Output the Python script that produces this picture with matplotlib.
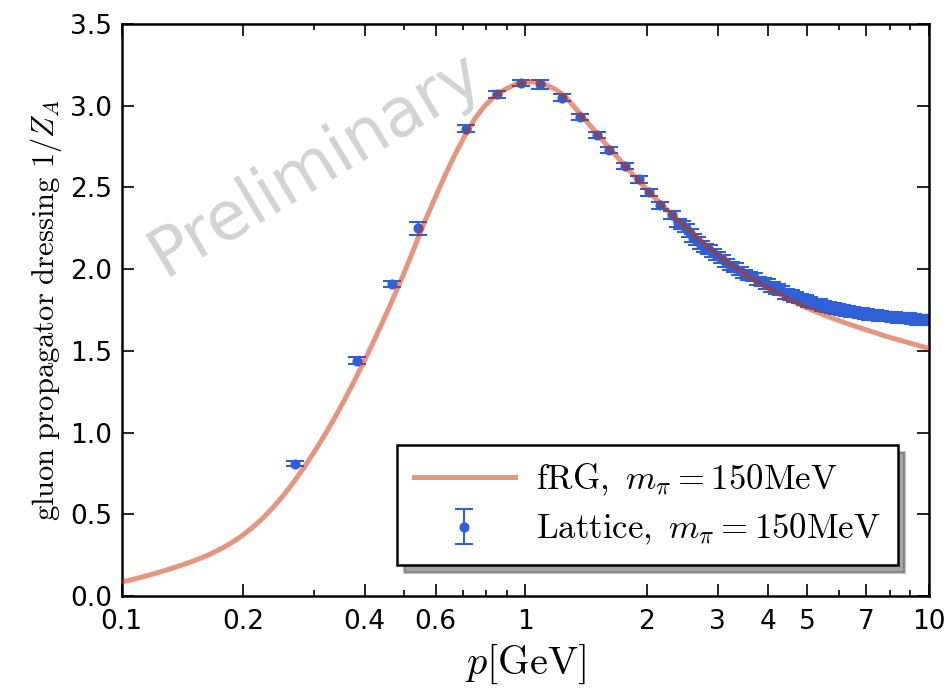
import matplotlib
matplotlib.use("Agg")
import matplotlib.pyplot as plt
from matplotlib.ticker import FixedLocator, FixedFormatter, NullFormatter
from matplotlib.patches import Shadow

plt.rcParams['mathtext.fontset'] = 'cm'
plt.rcParams['font.family'] = ['DejaVu Sans']

# ---------------- data ----------------
# fRG curve (m_pi = 150 MeV)
p_frg = [0.1000, 0.1059, 0.1122, 0.1189, 0.1259, 0.1334, 0.1413, 0.1496,
         0.1585, 0.1679, 0.1778, 0.1884, 0.1995, 0.2113, 0.2239, 0.2371,
         0.2512, 0.2661, 0.2818, 0.2985, 0.3162, 0.3350, 0.3548, 0.3758,
         0.3981, 0.4217, 0.4467, 0.4732, 0.5012, 0.5309, 0.5623, 0.5957,
         0.6310, 0.6683, 0.7079, 0.7499, 0.7943, 0.8414, 0.8913, 0.9441,
         1.000, 1.059, 1.122, 1.189, 1.259, 1.413, 1.585, 1.778, 1.995,
         2.239, 2.512, 2.818, 3.162, 3.548, 3.981, 4.467, 5.012, 5.623,
         6.310, 7.079, 7.943, 8.913, 10.00]
z_frg = [0.085, 0.100, 0.116, 0.133, 0.151, 0.170, 0.190, 0.212,
         0.236, 0.263, 0.294, 0.330, 0.372, 0.421, 0.477, 0.541,
         0.613, 0.693, 0.780, 0.873, 0.972, 1.078, 1.190, 1.308,
         1.432, 1.561, 1.695, 1.834, 1.978, 2.130, 2.285, 2.428,
         2.567, 2.697, 2.815, 2.920, 3.000, 3.060, 3.100, 3.130,
         3.144, 3.145, 3.130, 3.100, 3.055, 2.910, 2.765, 2.625, 2.490,
         2.365, 2.250, 2.145, 2.045, 1.960, 1.885, 1.820, 1.760, 1.710,
         1.665, 1.625, 1.585, 1.550, 1.515]

# Lattice data (m_pi = 150 MeV)
p_lat = [0.269, 0.383, 0.467, 0.542, 0.713, 0.851, 0.976, 1.087, 1.23, 1.37,
         1.51, 1.61, 1.77, 1.91, 2.03, 2.16, 2.31, 2.39,
         2.45, 2.50, 2.56, 2.61, 2.67, 2.73, 2.79, 2.85, 2.92, 2.99,
         3.07, 3.15, 3.23, 3.31, 3.40, 3.49, 3.58, 3.68, 3.78, 3.88,
         3.98, 4.09, 4.20, 4.31, 4.43, 4.55, 4.67, 4.80, 4.93, 5.06,
         5.20, 5.34, 5.48, 5.63, 5.78, 5.94, 6.10, 6.27, 6.44, 6.61,
         6.79, 6.98, 7.17, 7.36, 7.56, 7.77, 7.98, 8.20, 8.42, 8.65,
         8.89, 9.13, 9.38, 9.64, 9.90]
z_lat = [0.81, 1.44, 1.91, 2.25, 2.86, 3.07, 3.14, 3.13, 3.05, 2.93,
         2.82, 2.73, 2.63, 2.55, 2.47, 2.39, 2.33, 2.28,
         2.27, 2.25, 2.22, 2.19, 2.17, 2.15, 2.13, 2.12, 2.10, 2.08,
         2.06, 2.04, 2.02, 2.01, 1.99, 1.97, 1.96, 1.95, 1.93, 1.92,
         1.91, 1.89, 1.88, 1.87, 1.85, 1.84, 1.83, 1.82, 1.81, 1.80,
         1.79, 1.785, 1.775, 1.77, 1.76, 1.755, 1.75, 1.745, 1.74, 1.735,
         1.73, 1.725, 1.72, 1.72, 1.715, 1.71, 1.71, 1.705, 1.70, 1.70,
         1.70, 1.695, 1.69, 1.69, 1.69]
e_lat = [0.015, 0.02, 0.02, 0.04, 0.02, 0.02, 0.02, 0.03, 0.02, 0.02,
         0.02, 0.02, 0.02, 0.02, 0.02, 0.02, 0.025, 0.025,
         0.025, 0.025, 0.025, 0.025, 0.025, 0.025, 0.025, 0.025, 0.025, 0.025,
         0.025, 0.025, 0.025, 0.025, 0.025, 0.025, 0.025, 0.025, 0.025, 0.025,
         0.03, 0.03, 0.03, 0.03, 0.03, 0.03, 0.03, 0.03, 0.03, 0.03,
         0.03, 0.03, 0.03, 0.03, 0.03, 0.03, 0.03, 0.03, 0.03, 0.03,
         0.03, 0.03, 0.03, 0.03, 0.03, 0.03, 0.03, 0.03, 0.03, 0.03,
         0.03, 0.03, 0.03, 0.03, 0.03]

x_major = [0.1, 0.2, 0.4, 0.6, 1, 2, 3, 4, 5, 7, 10]
x_major_labels = ['0.1', '0.2', '0.4', '0.6', '1', '2', '3', '4', '5', '7', '10']
x_minor = [0.3, 0.5, 0.7, 0.8, 0.9, 6, 8, 9]
y_ticks = [0.0, 0.5, 1.0, 1.5, 2.0, 2.5, 3.0, 3.5]

label_frg = r'$\mathrm{fRG,}\ m_\pi = 150\mathrm{MeV}$'
label_lat = r'$\mathrm{Lattice,}\ m_\pi = 150\mathrm{MeV}$'

# ---------------- figure ----------------
fig = plt.figure(figsize=(9.49, 6.98), dpi=100)
ax = fig.add_axes([0.1282, 0.1461, 0.8505, 0.8195])

blue = '#3060d6'
err = ax.errorbar(p_lat, z_lat, yerr=e_lat, fmt='o', color=blue, ecolor=blue,
                  markersize=6.3, elinewidth=1.5,
                  capsize=6.5, capthick=1.5, zorder=2)
line, = ax.plot(p_frg, z_frg, color=(0.80, 0.18, 0.0), alpha=0.5, lw=3.6,
                zorder=3)

ax.text(0.24, 0.755, 'Preliminary', transform=ax.transAxes, fontsize=48,
        color='#d3d3d3', rotation=31, ha='center', va='center',
        rotation_mode='anchor', zorder=0)

ax.set_xscale('log')
ax.set_xlim(0.1, 10)
ax.set_ylim(0, 3.5)
ax.xaxis.set_major_locator(FixedLocator(x_major))
ax.xaxis.set_major_formatter(FixedFormatter(x_major_labels))
ax.xaxis.set_minor_locator(FixedLocator(x_minor))
ax.xaxis.set_minor_formatter(NullFormatter())
ax.set_yticks(y_ticks)
ax.set_yticklabels(['%.1f' % v for v in y_ticks])

for s in ax.spines.values():
    s.set_linewidth(1.8)
ax.tick_params(which='both', direction='in', top=True, right=True,
               width=1.2, labelsize=19)
ax.tick_params(which='major', length=8.5)
ax.tick_params(which='minor', length=4.5)
ax.tick_params(axis='x', pad=9)
ax.tick_params(axis='y', pad=7)

ax.set_xlabel(r'$p[\mathrm{GeV}]$', fontsize=29, labelpad=6)
ax.set_ylabel(r'$\mathrm{gluon\ propagator\ dressing}\ 1/Z_A$', fontsize=22,
              labelpad=4)

leg = ax.legend([line, err], [label_frg, label_lat],
                loc='lower right', fontsize=25, frameon=True, fancybox=False,
                framealpha=1, edgecolor='black', handlelength=2.9,
                handletextpad=0.6, borderpad=0.5, labelspacing=0.4,
                borderaxespad=0.9)
leg.get_frame().set_linewidth(1.8)
leg.set_zorder(10)
sh = Shadow(leg.legendPatch, 5, -5)
sh.set_zorder(9.9)
ax.add_artist(sh)

fig.canvas.draw()
fig.savefig('out.png', dpi=100)
